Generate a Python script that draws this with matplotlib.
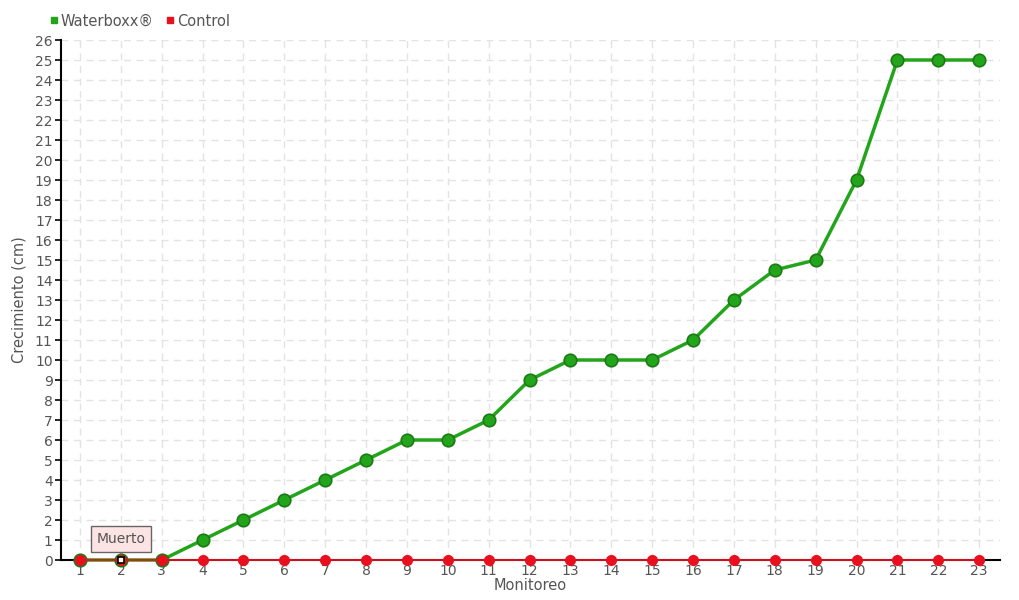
import matplotlib
matplotlib.use("Agg")
import matplotlib.pyplot as plt
from matplotlib.lines import Line2D

monitoreo = list(range(1, 24))
waterboxx = [0, 0, 0, 1, 2, 3, 4, 5, 6, 6, 7, 9, 10, 10, 10, 11, 13, 14.5, 15, 19, 25, 25, 25]
control = [0] * 23
muerto_idx = 1  # monitoreo 2

plt.rcParams["font.family"] = ["DejaVu Sans Condensed", "Liberation Sans Narrow", "DejaVu Sans"]
TXT = "#555555"
GREEN = "#22a51a"
RED = "#e8101e"

fig = plt.figure(figsize=(10.2, 6), dpi=100)
ax = fig.add_axes([61 / 1020, 40 / 600, 939 / 1020, 520 / 600])

ax.plot(monitoreo, waterboxx, color=GREEN, lw=2.5, marker="o", ms=9,
        mfc=GREEN, mec="#1c7a15", mew=1.2, zorder=3, clip_on=False)
ax.plot(monitoreo, control, color=RED, lw=1.3, marker="o", ms=7,
        mfc=RED, mec=RED, zorder=4, clip_on=False)
ax.plot(monitoreo[muerto_idx], control[muerto_idx], marker="s", ms=5,
        mfc="white", mec="black", mew=1.2, zorder=5, clip_on=False)

ax.annotate("Muerto", xy=(monitoreo[muerto_idx], 0), xytext=(0, 21),
            textcoords="offset pixels", ha="center", va="center",
            fontsize=10, color=TXT,
            bbox=dict(boxstyle="square,pad=0.4", fc="#fde4e4", ec="#666666", lw=1),
            arrowprops=dict(arrowstyle="-", color="#666666", lw=0.8,
                            shrinkA=0, shrinkB=4), zorder=6)

ax.set_xlim(0.535, 23.51)
ax.set_ylim(0, 26)
ax.set_xticks(monitoreo)
ax.set_yticks(range(0, 27))
ax.tick_params(axis="x", length=0, pad=3, labelsize=10, labelcolor=TXT)
ax.tick_params(axis="y", length=4, width=1.2, pad=2, labelsize=10, labelcolor=TXT)
ax.grid(True, ls=(0, (5, 4)), color="#e3e3e3", lw=1)
ax.set_axisbelow(True)
for s in ["top", "right"]:
    ax.spines[s].set_visible(False)
ax.spines["left"].set_linewidth(1.5)
ax.spines["bottom"].set_linewidth(1.5)

ax.set_ylabel("Crecimiento (cm)", fontsize=10.5, color=TXT, labelpad=6)
ax.set_xlabel("Monitoreo", fontsize=10.5, color=TXT, labelpad=0)

handles = [Line2D([], [], ls="none", marker="s", ms=5, color=GREEN),
           Line2D([], [], ls="none", marker="s", ms=5, color=RED)]
fig.legend(handles, ["Waterboxx®", "Control"], loc="center left",
           bbox_to_anchor=(42 / 1020, 1 - 21 / 600), ncol=2, frameon=False,
           handlelength=0.6, handletextpad=0.2, columnspacing=0.8,
           borderpad=0, fontsize=10.5, labelcolor=TXT)

fig.savefig("out.png", dpi=100)
